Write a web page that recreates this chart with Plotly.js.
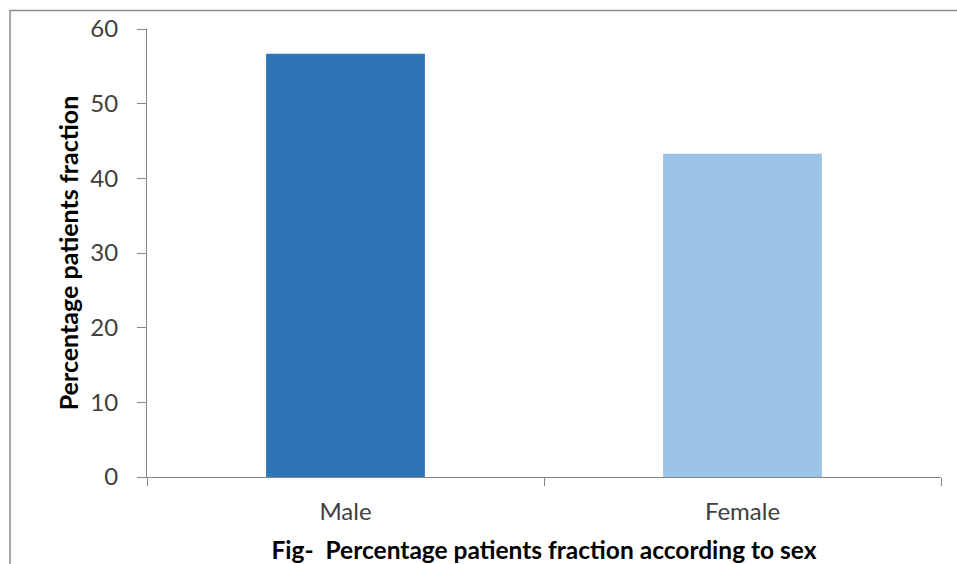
<!DOCTYPE html>
<html>
<head>
<meta charset="utf-8">
<script src="https://cdn.plot.ly/plotly-3.0.1.min.js"></script>
<style>html,body{margin:0;padding:0;background:#fff;}#chart{width:957px;height:564px;}</style>
</head>
<body>
<div id="chart"></div>
<script>
const categories = ["Male", "Female"];
const percentages = [56.7, 43.3];
const barColors = ["#2E75B6", "#9DC3E6"];
const yTicks = [0, 10, 20, 30, 40, 50, 60];
const xTitle = "Fig-  Percentage patients fraction according to sex";
const yTitle = "Percentage patients fraction";

const FONT = "Lato, 'Open Sans', sans-serif";
const data = [{
  type: "bar",
  x: categories,
  y: percentages,
  marker: {color: barColors, line: {width: 0}},
  hoverinfo: "x+y"
}];

const layout = {
  width: 957, height: 564,
  margin: {l: 147, r: 16, t: 29, b: 87, pad: 0},
  paper_bgcolor: "#fff", plot_bgcolor: "#fff",
  bargap: 0.6,
  showlegend: false,
  font: {family: FONT, color: "#404040"},
  xaxis: {
    type: "category",
    showline: true, linecolor: "#868686", linewidth: 1,
    ticks: "outside", tickson: "boundaries", ticklen: 8, tickcolor: "#868686",
    tickfont: {size: 24, color: "#404040", family: FONT},
    ticklabelstandoff: 13,
    showgrid: false, zeroline: false,
    title: {text: xTitle, font: {size: 24.5, color: "#000", family: FONT, weight: "bold"}, standoff: 22},
    automargin: false
  },
  yaxis: {
    range: [0, 60],
    tickvals: yTicks,
    showline: true, linecolor: "#868686", linewidth: 1,
    ticks: "outside", ticklen: 9, tickcolor: "#868686",
    tickfont: {size: 24, color: "#404040", family: FONT},
    ticklabelstandoff: 14,
    showgrid: false, zeroline: false,
    title: {text: yTitle, font: {size: 25, color: "#000", family: FONT, weight: "bold"}, standoff: 4},
    automargin: false
  },
  shapes: [{
    type: "rect", xref: "paper", yref: "paper",
    x0: (10 - 147) / 794, x1: (965 - 147) / 794,
    y0: (477 - 575) / 448, y1: (477 - 10.5) / 448,
    line: {color: "#8c8c8c", width: 1.5}, fillcolor: "rgba(0,0,0,0)", layer: "below"
  }]
};

Plotly.newPlot("chart", data, layout, {displayModeBar: false, staticPlot: true});
</script>
</body>
</html>
